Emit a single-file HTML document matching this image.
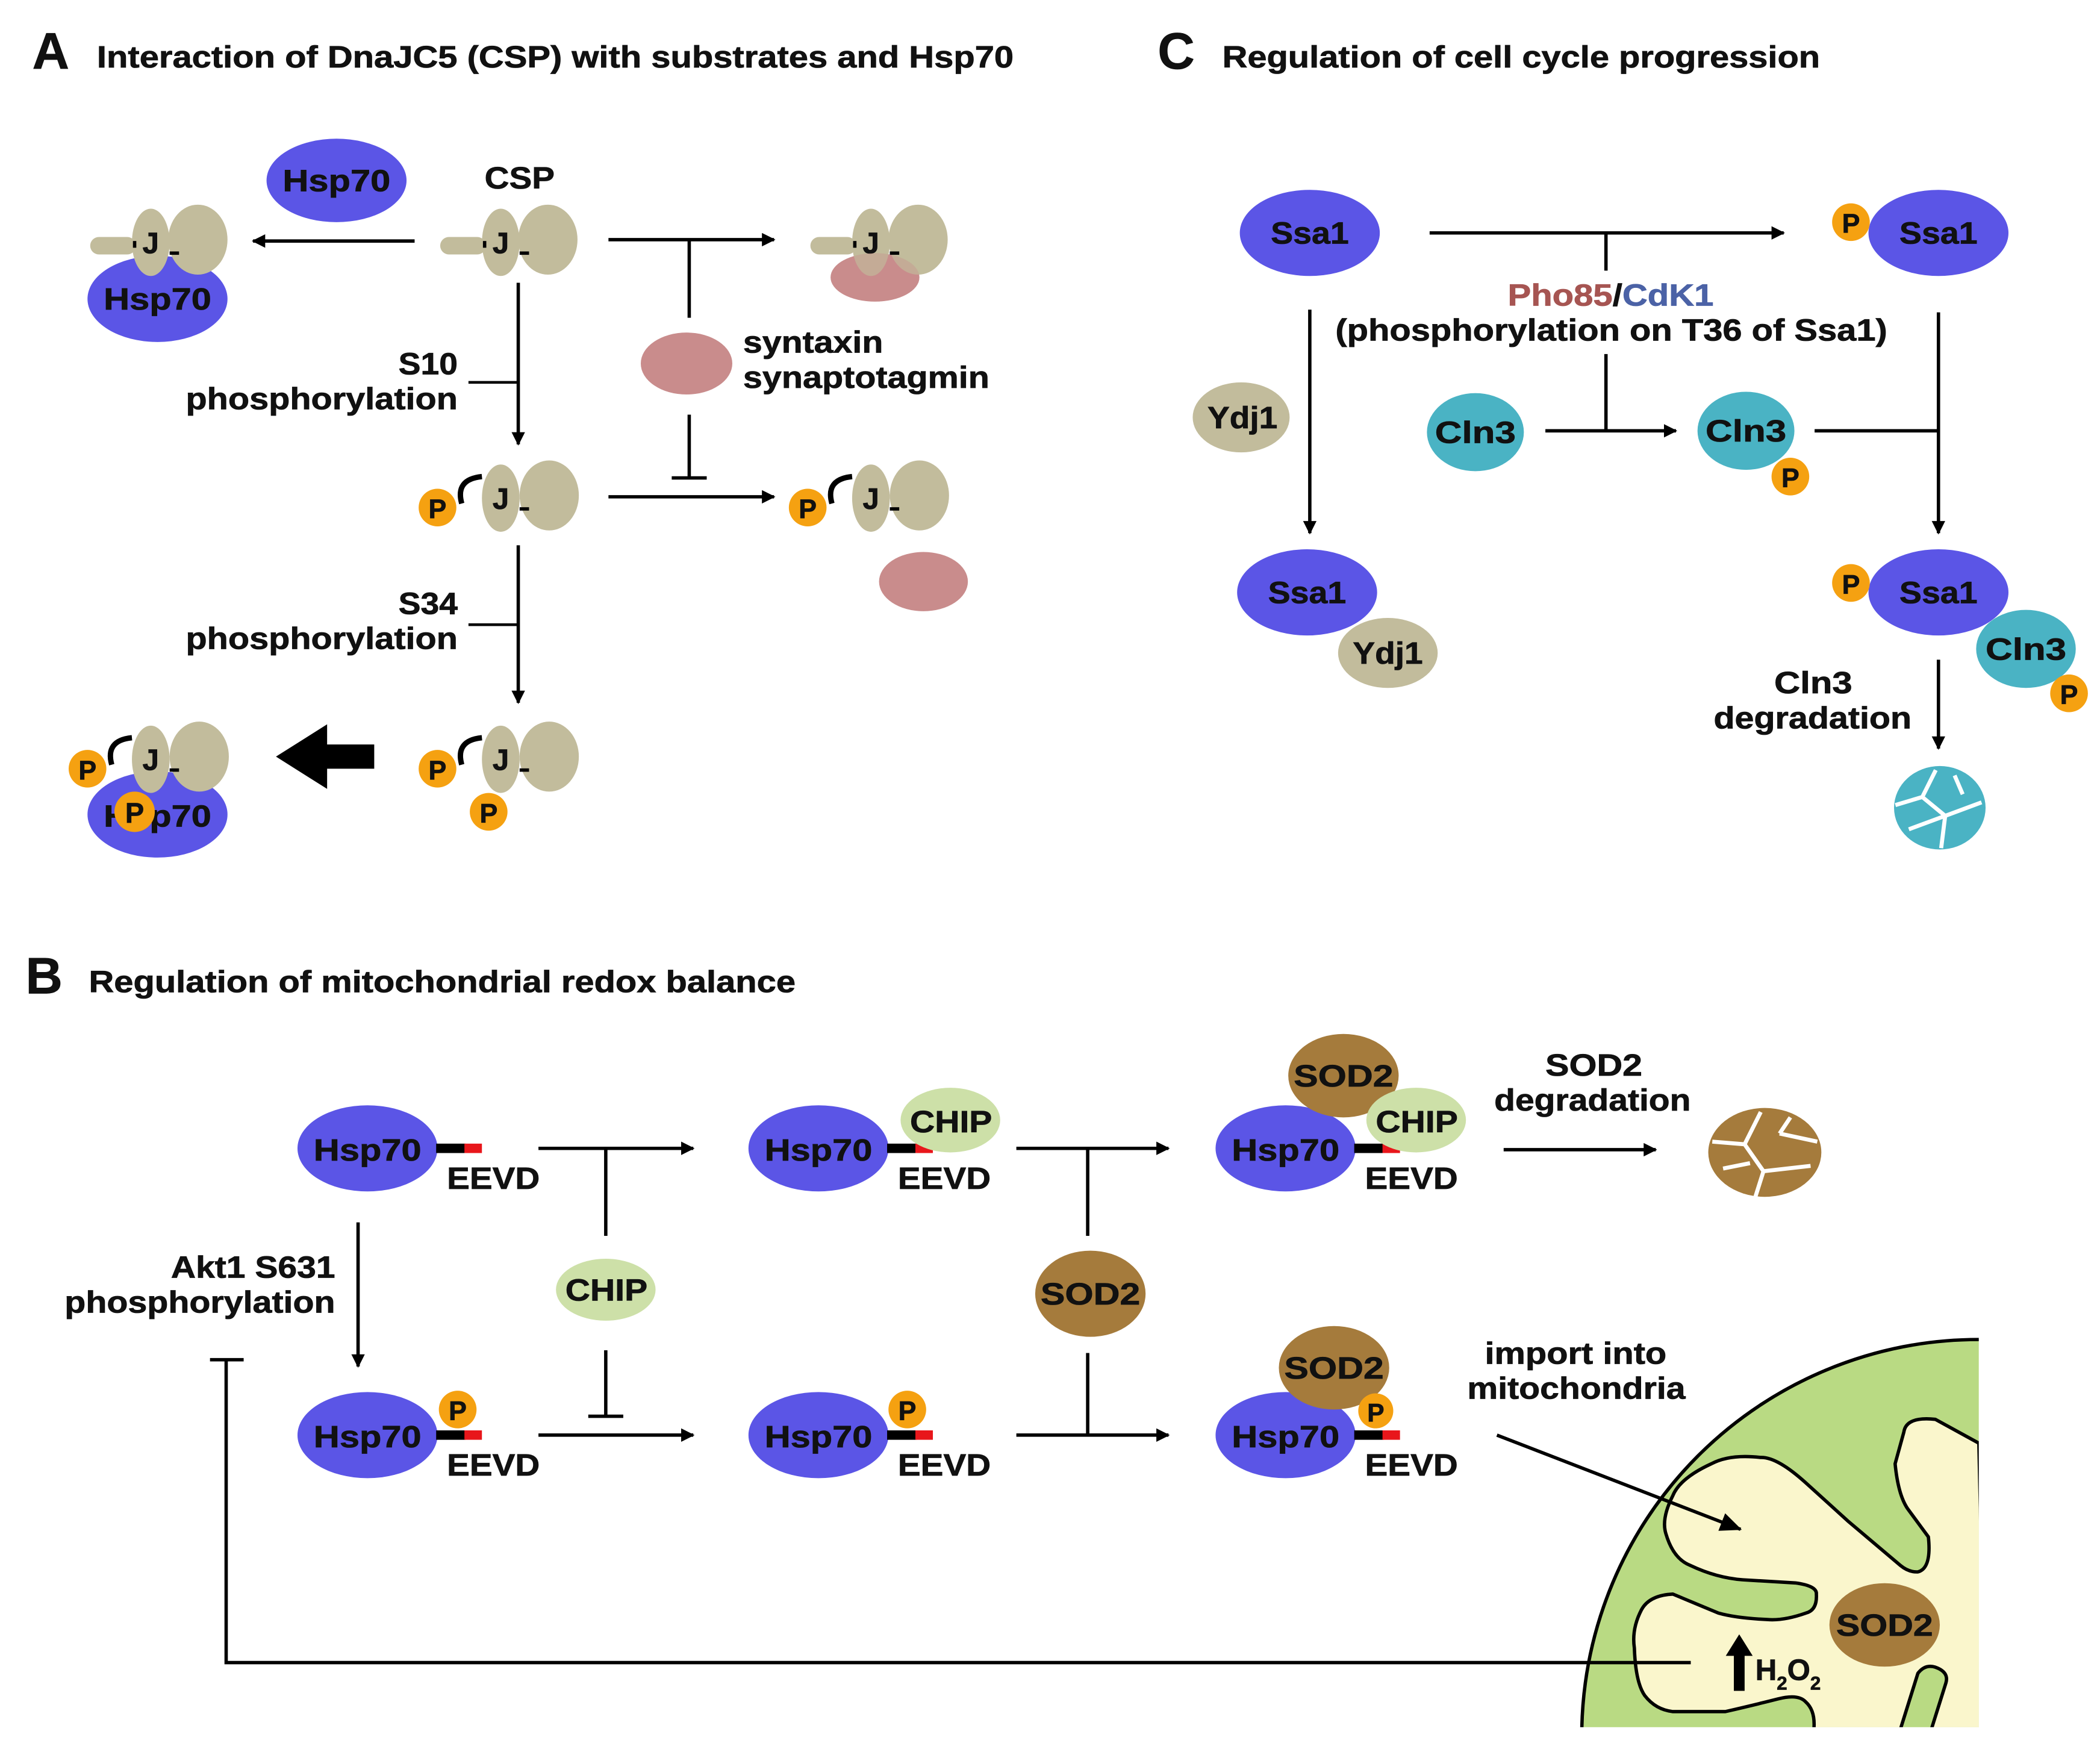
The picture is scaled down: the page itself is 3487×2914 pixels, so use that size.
<!DOCTYPE html>
<html><head><meta charset="utf-8"><style>
html,body{margin:0;padding:0;background:#fff;width:3487px;height:2914px;overflow:hidden}
svg{display:block}
text{font-family:"Liberation Sans",Arial,sans-serif;font-weight:bold;fill:#111;stroke:#111;stroke-width:0.35}
</style></head><body>
<svg width="3487" height="2914" viewBox="0 0 1560 1303.6" xmlns="http://www.w3.org/2000/svg">
<defs>
<marker id="ah" markerWidth="10" markerHeight="10" refX="9" refY="5" orient="auto" markerUnits="userSpaceOnUse"><path d="M0,0 L10,5 L0,10 z" fill="#000"/></marker>
<marker id="ahL" markerWidth="16" markerHeight="14" refX="15" refY="7" orient="auto" markerUnits="userSpaceOnUse"><path d="M0,0 L16,7 L0,14 z" fill="#000"/></marker>
<clipPath id="mc"><rect x="1100" y="900" width="370" height="383"/></clipPath>
</defs>

<!-- Titles -->
<text x="24" y="51" font-size="38">A</text>
<text x="72" y="50" font-size="23" textLength="681" lengthAdjust="spacingAndGlyphs">Interaction of DnaJC5 (CSP) with substrates and Hsp70</text>
<text x="860" y="51" font-size="38">C</text>
<text x="908" y="50" font-size="23" textLength="444" lengthAdjust="spacingAndGlyphs">Regulation of cell cycle progression</text>
<text x="19" y="738" font-size="38">B</text>
<text x="66" y="737" font-size="23" textLength="525" lengthAdjust="spacingAndGlyphs">Regulation of mitochondrial redox balance</text>

<!-- ===== Panel A ===== -->
<ellipse cx="250" cy="134" rx="52" ry="31" fill="#5b55e6"/>
<text x="210" y="142" font-size="23" textLength="80" lengthAdjust="spacingAndGlyphs">Hsp70</text>
<text x="360" y="140" font-size="23" textLength="52" lengthAdjust="spacingAndGlyphs">CSP</text>

<ellipse cx="117" cy="222" rx="52" ry="32" fill="#5b55e6"/>
<text x="77" y="230" font-size="23" textLength="80" lengthAdjust="spacingAndGlyphs">Hsp70</text>
<g id="cspA">
<rect x="67" y="176" width="34" height="13" rx="6.5" fill="#c2bc9c"/>
<ellipse cx="147" cy="178" rx="22" ry="26" fill="#c2bc9c"/>
<ellipse cx="112" cy="180" rx="14" ry="25" fill="#c2bc9c"/>
<line x1="126" y1="188" x2="133" y2="188" stroke="#000" stroke-width="2.5"/>
<line x1="100" y1="179" x2="100" y2="184" stroke="#000" stroke-width="2.5"/>
<text x="112" y="188" font-size="22" text-anchor="middle">J</text>
</g>
<use href="#cspA" x="260" y="0"/>
<ellipse cx="650" cy="206" rx="33" ry="18" fill="#c98c8c"/>
<use href="#cspA" x="535" y="0"/>
<ellipse cx="650" cy="206" rx="33" ry="18" fill="#c98c8c" opacity="0.35"/>

<line x1="308" y1="179" x2="188" y2="179" stroke="#000" stroke-width="2.5" marker-end="url(#ah)"/>
<line x1="452" y1="178" x2="575" y2="178" stroke="#000" stroke-width="2.5" marker-end="url(#ah)"/>
<line x1="512" y1="178" x2="512" y2="236" stroke="#000" stroke-width="2.5"/>
<ellipse cx="510" cy="270" rx="34" ry="23" fill="#c98c8c"/>
<text x="552" y="262" font-size="23" textLength="104" lengthAdjust="spacingAndGlyphs">syntaxin</text>
<text x="552" y="288" font-size="23" textLength="183" lengthAdjust="spacingAndGlyphs">synaptotagmin</text>
<line x1="512" y1="308" x2="512" y2="355" stroke="#000" stroke-width="2.5"/>
<line x1="499" y1="355" x2="525" y2="355" stroke="#000" stroke-width="2.5"/>

<line x1="385" y1="210" x2="385" y2="330" stroke="#000" stroke-width="2.5" marker-end="url(#ah)"/>
<line x1="348" y1="284" x2="385" y2="284" stroke="#000" stroke-width="2"/>
<text x="296" y="278" font-size="23" textLength="44" lengthAdjust="spacingAndGlyphs">S10</text>
<text x="138" y="304" font-size="23" textLength="202" lengthAdjust="spacingAndGlyphs">phosphorylation</text>

<g id="pcsp">
<ellipse cx="408" cy="368" rx="22" ry="26" fill="#c2bc9c"/>
<ellipse cx="372" cy="370" rx="14" ry="25" fill="#c2bc9c"/>
<line x1="386" y1="378" x2="393" y2="378" stroke="#000" stroke-width="2.5"/>
<text x="372" y="378" font-size="22" text-anchor="middle">J</text>
<path d="M358,354 Q338,356 343,374" stroke="#000" stroke-width="4" fill="none"/>
<circle cx="325" cy="377" r="14" fill="#f5a111"/>
<text x="325" y="385" font-size="20" text-anchor="middle">P</text>
</g>
<use href="#pcsp" x="275" y="0"/>
<ellipse cx="686" cy="432" rx="33" ry="22" fill="#c98c8c"/>
<line x1="452" y1="369" x2="575" y2="369" stroke="#000" stroke-width="2.5" marker-end="url(#ah)"/>

<line x1="385" y1="405" x2="385" y2="522" stroke="#000" stroke-width="2.5" marker-end="url(#ah)"/>
<line x1="348" y1="464" x2="385" y2="464" stroke="#000" stroke-width="2"/>
<text x="296" y="456" font-size="23" textLength="44" lengthAdjust="spacingAndGlyphs">S34</text>
<text x="138" y="482" font-size="23" textLength="202" lengthAdjust="spacingAndGlyphs">phosphorylation</text>

<use href="#pcsp" x="0" y="194"/>
<circle cx="363" cy="603" r="14" fill="#f5a111"/>
<text x="363" y="611" font-size="20" text-anchor="middle">P</text>

<path d="M278,553 L243,553 L243,538 L205,562 L243,586 L243,571 L278,571 z" fill="#000"/>

<ellipse cx="117" cy="605" rx="52" ry="32" fill="#5b55e6"/>
<text x="77" y="614" font-size="23" textLength="80" lengthAdjust="spacingAndGlyphs">Hsp70</text>
<use href="#pcsp" x="-260" y="194"/>
<circle cx="100" cy="603" r="15" fill="#f5a111"/>
<text x="100" y="611" font-size="21" text-anchor="middle">P</text>

<!-- ===== Panel C ===== -->
<ellipse cx="973" cy="173" rx="52" ry="32" fill="#5b55e6"/>
<text x="944" y="181" font-size="23" textLength="58" lengthAdjust="spacingAndGlyphs">Ssa1</text>
<line x1="1062" y1="173" x2="1325" y2="173" stroke="#000" stroke-width="2.5" marker-end="url(#ah)"/>
<ellipse cx="1440" cy="173" rx="52" ry="32" fill="#5b55e6"/>
<text x="1411" y="181" font-size="23" textLength="58" lengthAdjust="spacingAndGlyphs">Ssa1</text>
<circle cx="1375" cy="165" r="14" fill="#f5a111"/>
<text x="1375" y="173" font-size="20" text-anchor="middle">P</text>
<line x1="1193" y1="173" x2="1193" y2="201" stroke="#000" stroke-width="2.5"/>
<text x="1120" y="227" font-size="23" textLength="153" lengthAdjust="spacingAndGlyphs"><tspan fill="#a65552" stroke="#a65552">Pho85</tspan><tspan>/</tspan><tspan fill="#4b62a6" stroke="#4b62a6">CdK1</tspan></text>
<text x="992" y="253" font-size="23" textLength="410" lengthAdjust="spacingAndGlyphs">(phosphorylation on T36 of Ssa1)</text>

<ellipse cx="922" cy="310" rx="36" ry="26" fill="#c2bc9c"/>
<text x="897" y="318" font-size="23" textLength="52" lengthAdjust="spacingAndGlyphs">Ydj1</text>
<line x1="973" y1="230" x2="973" y2="396" stroke="#000" stroke-width="2.5" marker-end="url(#ah)"/>
<ellipse cx="971" cy="440" rx="52" ry="32" fill="#5b55e6"/>
<text x="942" y="448" font-size="23" textLength="58" lengthAdjust="spacingAndGlyphs">Ssa1</text>
<ellipse cx="1031" cy="485" rx="37" ry="26" fill="#c2bc9c"/>
<text x="1005" y="493" font-size="23" textLength="52" lengthAdjust="spacingAndGlyphs">Ydj1</text>

<ellipse cx="1096" cy="321" rx="36" ry="29" fill="#4ab3c4"/>
<text x="1066" y="329" font-size="23" textLength="60" lengthAdjust="spacingAndGlyphs">Cln3</text>
<line x1="1148" y1="320" x2="1245" y2="320" stroke="#000" stroke-width="2.5" marker-end="url(#ah)"/>
<line x1="1193" y1="263" x2="1193" y2="320" stroke="#000" stroke-width="2.5"/>
<ellipse cx="1297" cy="320" rx="36" ry="29" fill="#4ab3c4"/>
<text x="1267" y="328" font-size="23" textLength="60" lengthAdjust="spacingAndGlyphs">Cln3</text>
<circle cx="1330" cy="354" r="14" fill="#f5a111"/>
<text x="1330" y="362" font-size="20" text-anchor="middle">P</text>
<line x1="1348" y1="320" x2="1440" y2="320" stroke="#000" stroke-width="2.5"/>
<line x1="1440" y1="232" x2="1440" y2="396" stroke="#000" stroke-width="2.5" marker-end="url(#ah)"/>

<ellipse cx="1440" cy="440" rx="52" ry="32" fill="#5b55e6"/>
<text x="1411" y="448" font-size="23" textLength="58" lengthAdjust="spacingAndGlyphs">Ssa1</text>
<circle cx="1375" cy="433" r="14" fill="#f5a111"/>
<text x="1375" y="441" font-size="20" text-anchor="middle">P</text>
<ellipse cx="1505" cy="482" rx="37" ry="29" fill="#4ab3c4"/>
<text x="1475" y="490" font-size="23" textLength="60" lengthAdjust="spacingAndGlyphs">Cln3</text>
<circle cx="1537" cy="515" r="14" fill="#f5a111"/>
<text x="1537" y="523" font-size="20" text-anchor="middle">P</text>
<line x1="1440" y1="490" x2="1440" y2="556" stroke="#000" stroke-width="2.5" marker-end="url(#ah)"/>
<text x="1318" y="515" font-size="23" textLength="58" lengthAdjust="spacingAndGlyphs">Cln3</text>
<text x="1273" y="541" font-size="23" textLength="147" lengthAdjust="spacingAndGlyphs">degradation</text>
<ellipse cx="1441" cy="600" rx="34" ry="31" fill="#4ab3c4"/>
<path d="M1408,598 L1428,592 L1438,572 M1428,592 L1445,606 L1472,596 M1445,606 L1442,630 M1418,616 L1445,606 M1452,576 L1458,590" stroke="#fff" stroke-width="3" fill="none"/>

<!-- ===== Panel B ===== -->
<g id="hsp">
<ellipse cx="273" cy="853" rx="52" ry="32" fill="#5b55e6"/>
<text x="233" y="862" font-size="23" textLength="80" lengthAdjust="spacingAndGlyphs">Hsp70</text>
<line x1="324" y1="853" x2="346" y2="853" stroke="#000" stroke-width="7"/>
<line x1="345" y1="853" x2="358" y2="853" stroke="#e8161b" stroke-width="7"/>
<text x="332" y="883" font-size="23" textLength="69" lengthAdjust="spacingAndGlyphs">EEVD</text>
</g>
<line x1="400" y1="853" x2="515" y2="853" stroke="#000" stroke-width="2.5" marker-end="url(#ah)"/>
<line x1="450" y1="853" x2="450" y2="918" stroke="#000" stroke-width="2.5"/>
<ellipse cx="450" cy="958" rx="37" ry="23" fill="#cde0a8"/>
<text x="420" y="966" font-size="23" textLength="61" lengthAdjust="spacingAndGlyphs">CHIP</text>
<line x1="450" y1="1003" x2="450" y2="1052" stroke="#000" stroke-width="2.5"/>
<line x1="437" y1="1052" x2="463" y2="1052" stroke="#000" stroke-width="2.5"/>
<line x1="400" y1="1066" x2="515" y2="1066" stroke="#000" stroke-width="2.5" marker-end="url(#ah)"/>

<use href="#hsp" x="335" y="0"/>
<ellipse cx="706" cy="832" rx="37" ry="24" fill="#cde0a8"/>
<text x="676" y="841" font-size="23" textLength="61" lengthAdjust="spacingAndGlyphs">CHIP</text>
<line x1="755" y1="853" x2="868" y2="853" stroke="#000" stroke-width="2.5" marker-end="url(#ah)"/>
<line x1="808" y1="853" x2="808" y2="918" stroke="#000" stroke-width="2.5"/>
<ellipse cx="810" cy="961" rx="41" ry="32" fill="#a57b3c"/>
<text x="773" y="969" font-size="23" textLength="74" lengthAdjust="spacingAndGlyphs">SOD2</text>
<line x1="808" y1="1005" x2="808" y2="1066" stroke="#000" stroke-width="2.5"/>
<line x1="755" y1="1066" x2="868" y2="1066" stroke="#000" stroke-width="2.5" marker-end="url(#ah)"/>

<use href="#hsp" x="682" y="0"/>
<ellipse cx="998" cy="799" rx="41" ry="31" fill="#a57b3c"/>
<text x="961" y="807" font-size="23" textLength="74" lengthAdjust="spacingAndGlyphs">SOD2</text>
<ellipse cx="1052" cy="832" rx="37" ry="24" fill="#cde0a8"/>
<text x="1022" y="841" font-size="23" textLength="61" lengthAdjust="spacingAndGlyphs">CHIP</text>
<text x="1148" y="799" font-size="23" textLength="72" lengthAdjust="spacingAndGlyphs">SOD2</text>
<text x="1110" y="825" font-size="23" textLength="146" lengthAdjust="spacingAndGlyphs">degradation</text>
<line x1="1117" y1="854" x2="1230" y2="854" stroke="#000" stroke-width="2.5" marker-end="url(#ah)"/>
<ellipse cx="1311" cy="856" rx="42" ry="33" fill="#a57b3c"/>
<path d="M1272,848 L1296,850 L1308,826 M1296,850 L1310,870 L1345,866 M1310,870 L1304,889 M1322,842 L1350,848 M1280,868 L1300,864 M1330,830 L1322,842" stroke="#fff" stroke-width="3" fill="none"/>

<!-- row 2 -->
<use href="#hsp" x="0" y="213"/>
<circle cx="340" cy="1047" r="14" fill="#f5a111"/>
<text x="340" y="1055" font-size="20" text-anchor="middle">P</text>
<text x="127" y="949" font-size="23" textLength="122" lengthAdjust="spacingAndGlyphs">Akt1 S631</text>
<text x="48" y="975" font-size="23" textLength="201" lengthAdjust="spacingAndGlyphs">phosphorylation</text>
<line x1="266" y1="908" x2="266" y2="1015" stroke="#000" stroke-width="2.5" marker-end="url(#ah)"/>

<use href="#hsp" x="335" y="213"/>
<circle cx="674" cy="1047" r="14" fill="#f5a111"/>
<text x="674" y="1055" font-size="20" text-anchor="middle">P</text>

<use href="#hsp" x="682" y="213"/>
<ellipse cx="991" cy="1016" rx="41" ry="31" fill="#a57b3c"/>
<text x="954" y="1024" font-size="23" textLength="74" lengthAdjust="spacingAndGlyphs">SOD2</text>
<circle cx="1022" cy="1048" r="13" fill="#f5a111"/>
<text x="1022" y="1056" font-size="19" text-anchor="middle">P</text>

<!-- mitochondrion -->
<g clip-path="url(#mc)">
<circle cx="1470" cy="1290" r="295" fill="#b9da83" stroke="#000" stroke-width="2.5"/>
<path d="M1470,1072 L1437.7,1054.3 Q1416,1052 1414.3,1063.7 L1407.8,1087.3 Q1410,1110 1416.9,1120.4 L1432.5,1141.6 Q1435,1165 1424.7,1167.6 Q1418,1168 1411.7,1162.8 L1372.7,1129.8 L1341.5,1101.5 Q1320,1082 1307.7,1082.6 Q1285,1080 1271.3,1087.3 Q1248,1098 1242.7,1110.9 Q1234,1128 1237.5,1139.2 Q1243,1158 1255.7,1162.8 Q1275,1172 1294.7,1173.5 L1333.7,1175.8 Q1350,1178 1349.3,1184.1 Q1350,1196 1341.5,1198.2 Q1325,1204 1312.9,1203 Q1290,1202 1276.5,1198.2 L1242.7,1184.1 Q1225,1185 1219.3,1195.9 Q1212,1210 1214.1,1224.2 Q1215,1250 1221.9,1259.6 Q1230,1270 1242.7,1271.4 L1281.7,1271.4 Q1305,1266 1320.7,1262 Q1336,1258 1341.5,1264.3 Q1350,1272 1346.7,1290 L1410,1290 L1424.7,1243 Q1430,1236 1437.7,1238.4 Q1448,1242 1445.5,1250.2 L1433,1290 L1475,1290 z" fill="#faf6cc" stroke="#000" stroke-width="2.5" stroke-linejoin="round"/>
</g>
<rect x="1470" y="900" width="90" height="404" fill="#fff"/>
<rect x="1100" y="1283" width="400" height="21" fill="#fff"/>

<text x="1103" y="1013" font-size="23" textLength="135" lengthAdjust="spacingAndGlyphs">import into</text>
<text x="1090" y="1039" font-size="23" textLength="162" lengthAdjust="spacingAndGlyphs">mitochondria</text>
<line x1="1112" y1="1066" x2="1293" y2="1136" stroke="#000" stroke-width="2.5" marker-end="url(#ahL)"/>

<ellipse cx="1400" cy="1207" rx="41" ry="31" fill="#a57b3c"/>
<text x="1364" y="1215" font-size="23" textLength="72" lengthAdjust="spacingAndGlyphs">SOD2</text>
<path d="M1288,1256 L1288,1230 L1282,1230 L1292,1214 L1302,1230 L1296,1230 L1296,1256 z" fill="#000"/>
<text x="1304" y="1248" font-size="22">H<tspan font-size="14" dy="7">2</tspan><tspan dy="-7">O</tspan><tspan font-size="14" dy="7">2</tspan></text>

<polyline points="1256,1235 168,1235 168,1010" fill="none" stroke="#000" stroke-width="2.5"/>
<line x1="156" y1="1010" x2="181" y2="1010" stroke="#000" stroke-width="2.5"/>
</svg>
</body></html>
